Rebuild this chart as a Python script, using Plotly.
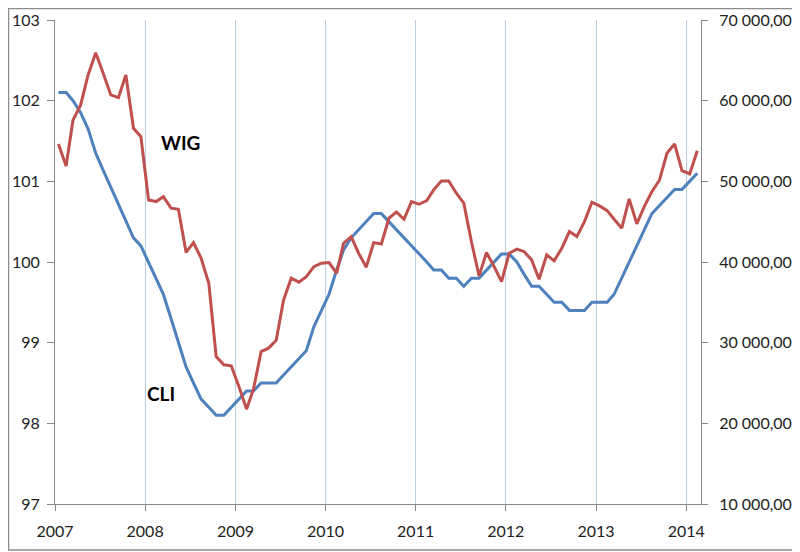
import pandas as pd
import plotly.graph_objects as go

# Monthly observations, Jan 2007 - Feb 2014 (plotted mid-month)
dates = pd.date_range("2007-01-01", periods=86, freq="MS") + pd.Timedelta(days=14)

cli = [102.1, 102.1, 102.0, 101.85, 101.65, 101.35, 101.14, 100.93, 100.72, 100.51, 100.3, 100.2,
       100.0, 99.8, 99.6, 99.3, 99.0, 98.7, 98.5, 98.3, 98.2, 98.1, 98.1, 98.2,
       98.3, 98.4, 98.4, 98.5, 98.5, 98.5, 98.6, 98.7, 98.8, 98.9, 99.2, 99.4,
       99.6, 99.9, 100.15, 100.3, 100.4, 100.5, 100.6, 100.6, 100.5, 100.4, 100.3, 100.2,
       100.1, 100.0, 99.9, 99.9, 99.8, 99.8, 99.7, 99.8, 99.8, 99.9, 100.0, 100.1,
       100.1, 100.0, 99.85, 99.7, 99.7, 99.6, 99.5, 99.5, 99.4, 99.4, 99.4, 99.5,
       99.5, 99.5, 99.6, 99.8, 100.0, 100.2, 100.4, 100.6, 100.7, 100.8, 100.9, 100.9,
       101.0, 101.1]

wig = [54630, 51910, 57610, 59470, 63190, 65950, 63400, 60710, 60370, 63190, 56580, 55540,
       47700, 47490, 48100, 46670, 46540, 41190, 42400, 40470, 37370, 28280, 27250, 27130,
       24560, 21760, 24240, 28900, 29320, 30300, 35300, 37990, 37500, 38190, 39430, 39850,
       39930, 38610, 42330, 43150, 41090, 39360, 42400, 42240, 45430, 46200, 45300, 47490,
       47160, 47610, 48940, 50050, 50050, 48530, 47290, 42530, 38280, 41170, 39430, 37570,
       41090, 41590, 41290, 40260, 37870, 40880, 40140, 41710, 43770, 43150, 45010, 47410,
       46950, 46370, 45300, 44190, 47820, 44720, 46860, 48720, 50170, 53480, 54630, 51330,
       50920, 53800]

year_ticks = ["2007-01-01", "2008-01-01", "2009-01-01", "2010-01-01", "2011-01-01",
              "2012-01-01", "2013-01-01", "2014-01-01"]
year_labels = ["2007", "2008", "2009", "2010", "2011", "2012", "2013", "2014"]

FONT = "Lato"
AX = "#868686"

fig = go.Figure()
fig.add_trace(go.Scatter(x=dates, y=cli, mode="lines", name="CLI",
                         line=dict(color="#4F81BD", width=3)))
fig.add_trace(go.Scatter(x=dates, y=wig, mode="lines", name="WIG", yaxis="y2",
                         line=dict(color="#C0504D", width=3)))

fig.update_layout(
    width=792, height=544,
    margin=dict(l=47, r=99, t=12, b=48),
    paper_bgcolor="white", plot_bgcolor="white",
    showlegend=False,
    separators=", ",
    font=dict(family=FONT, size=16, color="#222222"),
    xaxis=dict(type="date", range=["2007-01-01", "2014-03-02"],
               tickvals=year_ticks, ticktext=year_labels,
               showgrid=True, gridcolor="#B9CDE4", gridwidth=1,
               showline=True, linecolor=AX, linewidth=1,
               ticks="outside", ticklen=6, tickcolor=AX,
               ticklabelstandoff=7, automargin=False,
               zeroline=False),
    yaxis=dict(range=[97, 103], dtick=1, tick0=97,
               showgrid=False, zeroline=False,
               showline=True, linecolor=AX, linewidth=1,
               ticks="outside", ticklen=7, tickcolor=AX,
               ticklabelstandoff=4, automargin=False),
    yaxis2=dict(range=[10000, 70000], dtick=10000, tick0=10000,
                overlaying="y", side="right", tickformat=",.2f",
                showgrid=False, zeroline=False,
                showline=True, linecolor=AX, linewidth=1,
                ticks="outside", ticklen=6, tickcolor=AX,
                ticklabelstandoff=8, automargin=False),
    annotations=[
        dict(text="<b>WIG</b>", xref="paper", yref="paper", x=0.195, y=0.746,
             xanchor="center", yanchor="middle",
             showarrow=False, font=dict(family=FONT, size=19, color="#000000")),
        dict(text="<b>CLI</b>", xref="paper", yref="paper", x=0.1638, y=0.2287,
             xanchor="center", yanchor="middle",
             showarrow=False, font=dict(family=FONT, size=19, color="#000000")),
    ],
    shapes=[
        dict(type="rect", xref="paper", yref="paper",
             x0=-0.072, x1=1.150, y0=-0.095, y1=1.0238,
             line=dict(color="#8C8C8C", width=1.5), fillcolor="rgba(0,0,0,0)", layer="below"),
    ],
)

fig.write_html("out.html")
